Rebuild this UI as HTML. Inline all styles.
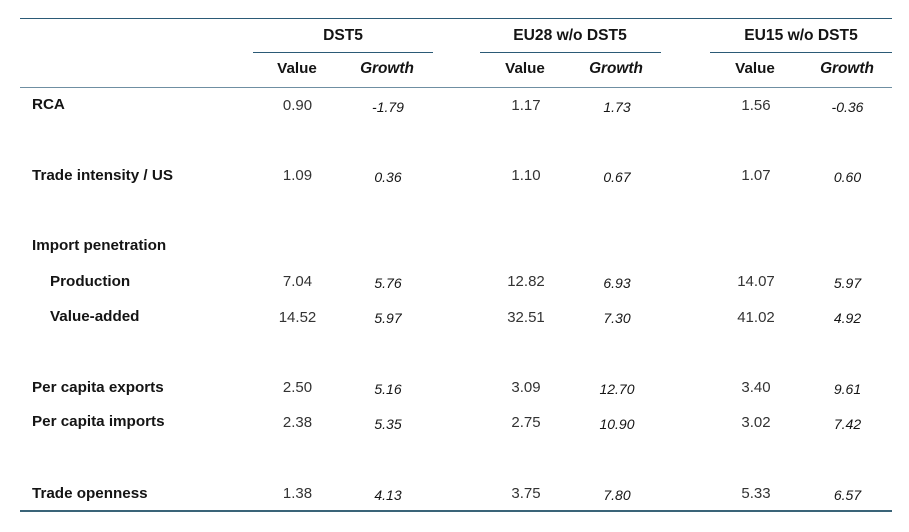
<!DOCTYPE html>
<html>
<head>
<meta charset="utf-8">
<style>
  html, body { margin:0; padding:0; background:#ffffff; }
  body { width:909px; height:532px; position:relative; overflow:hidden;
         font-family:"Liberation Sans", Arial, sans-serif; }
  .t { position:absolute; white-space:nowrap; line-height:1; }
  .c { width:120px; text-align:center; }
  .lbl { font-weight:bold; font-size:15.2px; color:#141414; }
  .hd  { font-weight:bold; font-size:15.6px; color:#141414; }
  .hv  { font-weight:bold; font-size:15.2px; color:#141414; }
  .hg  { font-weight:bold; font-style:italic; font-size:15.4px; color:#141414; }
  .v   { font-size:15px; color:#333333; }
  .g   { font-size:14px; font-style:italic; color:#151515; }
  .line { position:absolute; height:1px; background:#2b5a76; }
</style>
</head>
<body>
  <!-- rules -->
  <div class="line" style="left:20px; top:18px; width:872px;"></div>
  <div class="line" style="left:253px; top:52px; width:180px;"></div>
  <div class="line" style="left:480px; top:52px; width:181px;"></div>
  <div class="line" style="left:710px; top:52px; width:182px;"></div>
  <div class="line" style="left:20px; top:87px; width:872px; background:#6f8fa2;"></div>
  <div class="line" style="left:20px; top:510px; width:872px; height:2px; background:#3a6478;"></div>

  <!-- group headers -->
  <div class="t hd c" style="left:283px; top:27.8px;">DST5</div>
  <div class="t hd c" style="left:510px; top:27.8px;">EU28 w/o DST5</div>
  <div class="t hd c" style="left:741px; top:27.8px;">EU15 w/o DST5</div>

  <!-- sub headers -->
  <div class="t hv c" style="left:237px; top:61.4px;">Value</div>
  <div class="t hg c" style="left:327px; top:61.4px;">Growth</div>
  <div class="t hv c" style="left:465px; top:61.4px;">Value</div>
  <div class="t hg c" style="left:556px; top:61.4px;">Growth</div>
  <div class="t hv c" style="left:695px; top:61.4px;">Value</div>
  <div class="t hg c" style="left:787px; top:61.4px;">Growth</div>

  <!-- row labels -->
  <div class="t lbl" style="left:32px; top:97.1px;">RCA</div>
  <div class="t lbl" style="left:32px; top:168.1px;">Trade intensity / US</div>
  <div class="t lbl" style="left:32px; top:238.1px;">Import penetration</div>
  <div class="t lbl" style="left:50px; top:274.4px;">Production</div>
  <div class="t lbl" style="left:50px; top:308.8px;">Value-added</div>
  <div class="t lbl" style="left:32px; top:379.8px;">Per capita exports</div>
  <div class="t lbl" style="left:32px; top:414.4px;">Per capita imports</div>
  <div class="t lbl" style="left:32px; top:486.4px;">Trade openness</div>

  <!-- RCA -->
  <div class="t v c" style="left:237.5px; top:98px;">0.90</div>
  <div class="t g c" style="left:328px; top:99.9px;">-1.79</div>
  <div class="t v c" style="left:466px; top:98px;">1.17</div>
  <div class="t g c" style="left:557px; top:99.9px;">1.73</div>
  <div class="t v c" style="left:696px; top:98px;">1.56</div>
  <div class="t g c" style="left:787.5px; top:99.9px;">-0.36</div>

  <!-- Trade intensity -->
  <div class="t v c" style="left:237.5px; top:168px;">1.09</div>
  <div class="t g c" style="left:328px; top:169.9px;">0.36</div>
  <div class="t v c" style="left:466px; top:168px;">1.10</div>
  <div class="t g c" style="left:557px; top:169.9px;">0.67</div>
  <div class="t v c" style="left:696px; top:168px;">1.07</div>
  <div class="t g c" style="left:787.5px; top:169.9px;">0.60</div>

  <!-- Production -->
  <div class="t v c" style="left:237.5px; top:274px;">7.04</div>
  <div class="t g c" style="left:328px; top:275.9px;">5.76</div>
  <div class="t v c" style="left:466px; top:274px;">12.82</div>
  <div class="t g c" style="left:557px; top:275.9px;">6.93</div>
  <div class="t v c" style="left:696px; top:274px;">14.07</div>
  <div class="t g c" style="left:787.5px; top:275.9px;">5.97</div>

  <!-- Value-added -->
  <div class="t v c" style="left:237.5px; top:309.5px;">14.52</div>
  <div class="t g c" style="left:328px; top:311.4px;">5.97</div>
  <div class="t v c" style="left:466px; top:309.5px;">32.51</div>
  <div class="t g c" style="left:557px; top:311.4px;">7.30</div>
  <div class="t v c" style="left:696px; top:309.5px;">41.02</div>
  <div class="t g c" style="left:787.5px; top:311.4px;">4.92</div>

  <!-- Per capita exports -->
  <div class="t v c" style="left:237.5px; top:380px;">2.50</div>
  <div class="t g c" style="left:328px; top:382.4px;">5.16</div>
  <div class="t v c" style="left:466px; top:380px;">3.09</div>
  <div class="t g c" style="left:557px; top:382.4px;">12.70</div>
  <div class="t v c" style="left:696px; top:380px;">3.40</div>
  <div class="t g c" style="left:787.5px; top:382.4px;">9.61</div>

  <!-- Per capita imports -->
  <div class="t v c" style="left:237.5px; top:415px;">2.38</div>
  <div class="t g c" style="left:328px; top:417.4px;">5.35</div>
  <div class="t v c" style="left:466px; top:415px;">2.75</div>
  <div class="t g c" style="left:557px; top:417.4px;">10.90</div>
  <div class="t v c" style="left:696px; top:415px;">3.02</div>
  <div class="t g c" style="left:787.5px; top:417.4px;">7.42</div>

  <!-- Trade openness -->
  <div class="t v c" style="left:237.5px; top:486.3px;">1.38</div>
  <div class="t g c" style="left:328px; top:488.2px;">4.13</div>
  <div class="t v c" style="left:466px; top:486.3px;">3.75</div>
  <div class="t g c" style="left:557px; top:488.2px;">7.80</div>
  <div class="t v c" style="left:696px; top:486.3px;">5.33</div>
  <div class="t g c" style="left:787.5px; top:488.2px;">6.57</div>
</body>
</html>
